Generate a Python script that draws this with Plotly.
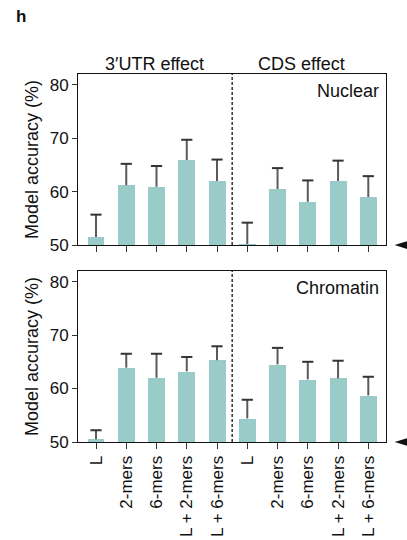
import plotly.graph_objects as go

# Feature sets: 3'UTR effect (first five) and CDS effect (last five)
categories = ["L", "2-mers", "6-mers", "L + 2-mers", "L + 6-mers",
              "L", "2-mers", "6-mers", "L + 2-mers", "L + 6-mers"]

# Mean model accuracy (%) and upper error (%)
nuclear_acc = [51.5, 61.2, 60.9, 65.9, 62.0, 50.2, 60.5, 58.1, 62.0, 59.0]
nuclear_err = [4.2, 4.0, 3.9, 3.8, 4.0, 4.0, 3.9, 4.0, 3.8, 3.9]
chromatin_acc = [50.5, 63.9, 62.0, 63.2, 65.3, 54.4, 64.5, 61.7, 61.9, 58.7]
chromatin_err = [1.7, 2.6, 4.5, 2.7, 2.6, 3.5, 3.1, 3.3, 3.3, 3.5]

chance_level = 50
y_ticks = [50, 60, 70, 80]
y_range = [50, 82]

BAR = "#99CCC8"
ERR = "#5a5a5a"
CAP = "#333333"
FONT = "Liberation Sans, Arial, sans-serif"
x_pos = list(range(len(categories)))

fig = go.Figure()

panels = [("Nuclear", nuclear_acc, nuclear_err, "x", "y"),
          ("Chromatin", chromatin_acc, chromatin_err, "x2", "y2")]

for name, acc, err, xa, ya in panels:
    fig.add_trace(go.Bar(
        x=x_pos, y=acc, xaxis=xa, yaxis=ya, width=0.56,
        marker=dict(color=BAR, line=dict(width=0)),
        showlegend=False, hoverinfo="skip"))
    # One-sided error bars: stem down to the bar top, cap at the upper end
    tops = [a + e for a, e in zip(acc, err)]
    fig.add_trace(go.Scatter(
        x=x_pos, y=tops, xaxis=xa, yaxis=ya, mode="markers",
        marker=dict(symbol="line-ew", size=8, color=CAP,
                    line=dict(width=2, color=CAP)),
        error_y=dict(type="data", symmetric=False,
                     array=[0] * len(err), arrayminus=err,
                     color=ERR, thickness=2, width=0),
        cliponaxis=False, showlegend=False, hoverinfo="skip"))

axis_common = dict(showline=True, linecolor="#111", linewidth=1, mirror=True,
                   ticks="outside", tickcolor="#333", tickwidth=1.2,
                   automargin=False, showgrid=False, zeroline=False)

fig.update_layout(
    width=407, height=540,
    margin=dict(l=77.7, r=21.3, t=74, b=98.3, autoexpand=False),
    paper_bgcolor="white", plot_bgcolor="white",
    font=dict(family=FONT, size=17, color="#111"),
    bargap=0,
    xaxis=dict(domain=[0, 1], anchor="y", range=[-0.595, 9.585],
               tickvals=x_pos, showticklabels=False, ticklen=6,
               **axis_common),
    yaxis=dict(domain=[0.535, 1], anchor="x", range=y_range,
               tickvals=y_ticks, ticklen=5,
               title=dict(text="Model accuracy (%)", font=dict(size=18),
                          standoff=6),
               **axis_common),
    xaxis2=dict(domain=[0, 1], anchor="y2", range=[-0.595, 9.585],
                tickvals=x_pos, ticktext=categories, tickangle=-90,
                ticklen=6, tickfont=dict(size=17), **axis_common),
    yaxis2=dict(domain=[0, 0.465], anchor="x2", range=y_range,
                tickvals=y_ticks, ticklen=5,
                title=dict(text="Model accuracy (%)", font=dict(size=18),
                           standoff=6),
                **axis_common),
)

# Dashed divider between the 3'UTR and CDS groups
for xa, ya in [("x", "y"), ("x2", "y2")]:
    fig.add_shape(type="line", xref=xa, yref=f"{ya} domain",
                  x0=4.5, x1=4.5, y0=0, y1=1,
                  line=dict(color="#000", width=1.2, dash="3px,2px"))
    # Chance-level marker at the right of each panel
    fig.add_shape(type="path", xref=f"{xa} domain", yref=f"{ya} domain",
                  path="M 1.028,0 L 1.075,0.026 L 1.075,-0.026 Z",
                  fillcolor="#111", line=dict(width=0))

fig.add_annotation(text="<b>h</b>", xref="paper", yref="paper",
                   x=-0.208, y=1.155, xanchor="left", yanchor="middle",
                   showarrow=False, font=dict(size=17))
fig.add_annotation(text="3′UTR effect", xref="paper", yref="paper",
                   x=0.2497, y=0.995, xanchor="center", yanchor="bottom",
                   showarrow=False, font=dict(size=18))
fig.add_annotation(text="CDS effect", xref="paper", yref="paper",
                   x=0.7266, y=0.995, xanchor="center", yanchor="bottom",
                   showarrow=False, font=dict(size=18))
fig.add_annotation(text="Nuclear", xref="x domain", yref="y domain",
                   x=0.985, y=0.97, xanchor="right", yanchor="top",
                   showarrow=False, font=dict(size=18))
fig.add_annotation(text="Chromatin", xref="x2 domain", yref="y2 domain",
                   x=0.985, y=0.97, xanchor="right", yanchor="top",
                   showarrow=False, font=dict(size=18))

fig.write_html("out.html")
